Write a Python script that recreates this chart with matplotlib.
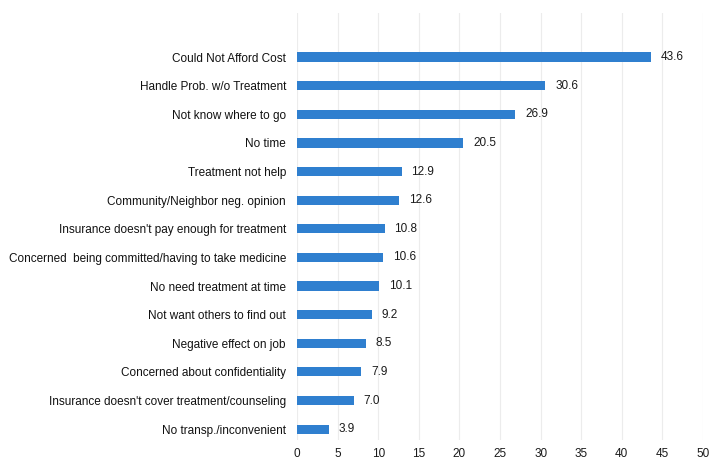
import matplotlib

matplotlib.use("Agg")
import matplotlib.pyplot as plt
import numpy as np

reasons = [
    "Could Not Afford Cost",
    "Handle Prob. w/o Treatment",
    "Not know where to go",
    "No time",
    "Treatment not help",
    "Community/Neighbor neg. opinion",
    "Insurance doesn't pay enough for treatment",
    "Concerned  being committed/having to take medicine",
    "No need treatment at time",
    "Not want others to find out",
    "Negative effect on job",
    "Concerned about confidentiality",
    "Insurance doesn't cover treatment/counseling",
    "No transp./inconvenient",
]
percent = [43.6, 30.6, 26.9, 20.5, 12.9, 12.6, 10.8, 10.6, 10.1, 9.2, 8.5, 7.9, 7.0, 3.9]
x_ticks = list(range(0, 55, 5))

plt.rcParams["font.family"] = ["Liberation Sans", "DejaVu Sans"]

fig = plt.figure(figsize=(7.12, 4.62), dpi=100)
ax = fig.add_axes([297 / 712, 22 / 462, 406 / 712, 427 / 462])

pos = np.arange(len(reasons))
ax.barh(pos, percent, height=0.32, color="#2f7fcf", zorder=3)
for y, v in zip(pos, percent):
    ax.text(v + 1.2, y, f"{v:.1f}", va="center", ha="left", fontsize=8.5, color="#1a1a1a")

ax.set_yticks(pos)
ax.set_yticklabels(reasons, fontsize=8.5, color="#111111")
ax.set_xticks(x_ticks)
ax.set_xticklabels([str(t) for t in x_ticks], fontsize=8.5, color="#1a1a1a")
ax.set_xlim(0, 50)
ax.set_ylim(13.38, -1.54)
ax.tick_params(length=0, pad=8)
ax.tick_params(axis="x", pad=6)
ax.grid(axis="x", color="#ececec", linewidth=0.8, zorder=0)
for s in ax.spines.values():
    s.set_visible(False)

fig.savefig("out.png", dpi=100)
